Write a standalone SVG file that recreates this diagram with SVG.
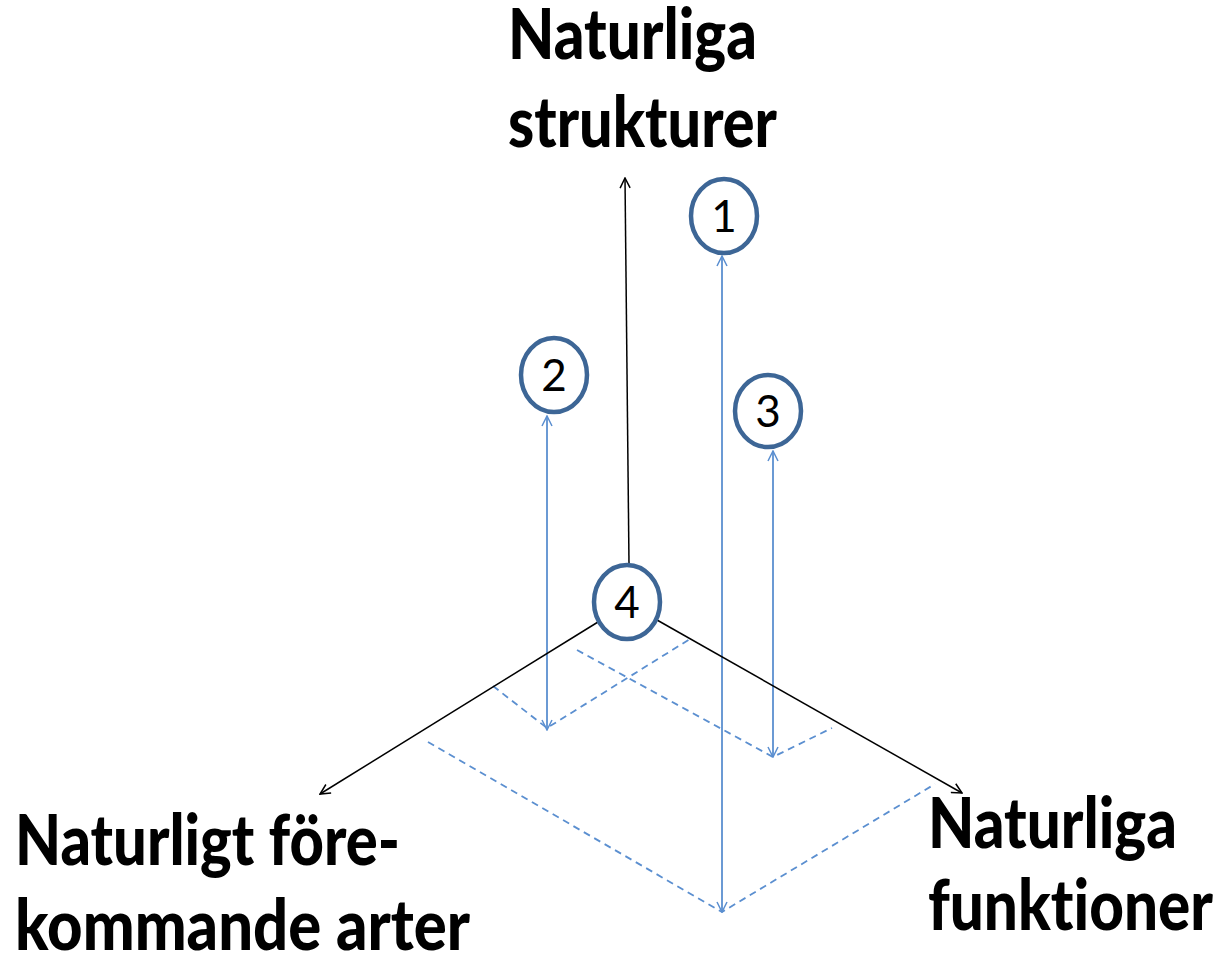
<svg xmlns="http://www.w3.org/2000/svg" width="1223" height="965" viewBox="0 0 1223 965">
  <style>
    .axis { stroke: #000; stroke-width: 1.5; fill: none; }
    .proj { stroke: #5b8fd0; stroke-width: 1.8; fill: none; }
    .guide { stroke: #5b8fd0; stroke-width: 1.8; fill: none; stroke-dasharray: 7 5; }
    .ring { fill: #fff; stroke: #3d6696; stroke-width: 4.5; }
    .num { font-family: Lato, "Liberation Sans", sans-serif; font-size: 44px; fill: #000; text-anchor: middle; font-variant-ligatures: none; }
    .label { font-family: Lato, "Liberation Sans", sans-serif; font-weight: 900; font-size: 70px; fill: #000; font-variant-ligatures: none; }
  </style>
  <defs>
    <marker id="arrowBlack" viewBox="0 0 12 12" refX="11" refY="6" markerWidth="12" markerHeight="12" markerUnits="userSpaceOnUse" orient="auto-start-reverse">
      <path d="M1,1 L11,6 L1,11" fill="none" stroke="#000" stroke-width="1.5"/>
    </marker>
    <marker id="arrowBlue" viewBox="0 0 12 12" refX="11" refY="6" markerWidth="12" markerHeight="12" markerUnits="userSpaceOnUse" orient="auto-start-reverse">
      <path d="M1,1 L11,6 L1,11" fill="none" stroke="#5b8fd0" stroke-width="1.5"/>
    </marker>
  </defs>

  <g id="connectors">
    <!-- dashed projection guides on the ground plane -->
    <path class="guide" d="M493,686 L547,728 L690,639"/>
    <path class="guide" d="M577,650 L773,757 L832,728"/>
    <path class="guide" d="M428,742 L722,912 L935,784"/>
    <!-- vertical projection lines -->
    <line class="proj" x1="547" y1="730" x2="547" y2="416" marker-start="url(#arrowBlue)" marker-end="url(#arrowBlue)"/>
    <line class="proj" x1="773" y1="757" x2="773" y2="451" marker-start="url(#arrowBlue)" marker-end="url(#arrowBlue)"/>
    <line class="proj" x1="722" y1="912" x2="722" y2="256" marker-start="url(#arrowBlue)" marker-end="url(#arrowBlue)"/>
    <!-- main axes -->
    <line class="axis" x1="629" y1="564" x2="625" y2="178" marker-end="url(#arrowBlack)"/>
    <line class="axis" x1="598" y1="622" x2="320" y2="794" marker-end="url(#arrowBlack)"/>
    <line class="axis" x1="657" y1="620" x2="962" y2="793" marker-end="url(#arrowBlack)"/>
  </g>

  <g id="node-1">
    <ellipse class="ring" cx="724" cy="216" rx="33" ry="37"/>
    <text class="num" x="724" y="232">1</text>
  </g>
  <g id="node-2">
    <ellipse class="ring" cx="554" cy="375" rx="33" ry="37"/>
    <text class="num" x="554" y="391">2</text>
  </g>
  <g id="node-3">
    <ellipse class="ring" cx="768" cy="411" rx="33" ry="36"/>
    <text class="num" x="768" y="427">3</text>
  </g>
  <g id="node-4">
    <ellipse class="ring" cx="627" cy="602" rx="33" ry="37"/>
    <text class="num" x="627" y="618">4</text>
  </g>

  <g id="label-top">
    <text class="label" x="508" y="59" textLength="249" lengthAdjust="spacingAndGlyphs">Naturliga</text>
    <text class="label" x="508" y="147" textLength="269" lengthAdjust="spacingAndGlyphs">strukturer</text>
  </g>
  <g id="label-left">
    <text class="label" x="15" y="865" textLength="385" lengthAdjust="spacingAndGlyphs">Naturligt före-</text>
    <text class="label" x="15" y="950" textLength="455" lengthAdjust="spacingAndGlyphs">kommande arter</text>
  </g>
  <g id="label-right">
    <text class="label" x="928" y="848" textLength="249" lengthAdjust="spacingAndGlyphs">Naturliga</text>
    <text class="label" x="928" y="930" textLength="285" lengthAdjust="spacingAndGlyphs">funktioner</text>
  </g>
</svg>
